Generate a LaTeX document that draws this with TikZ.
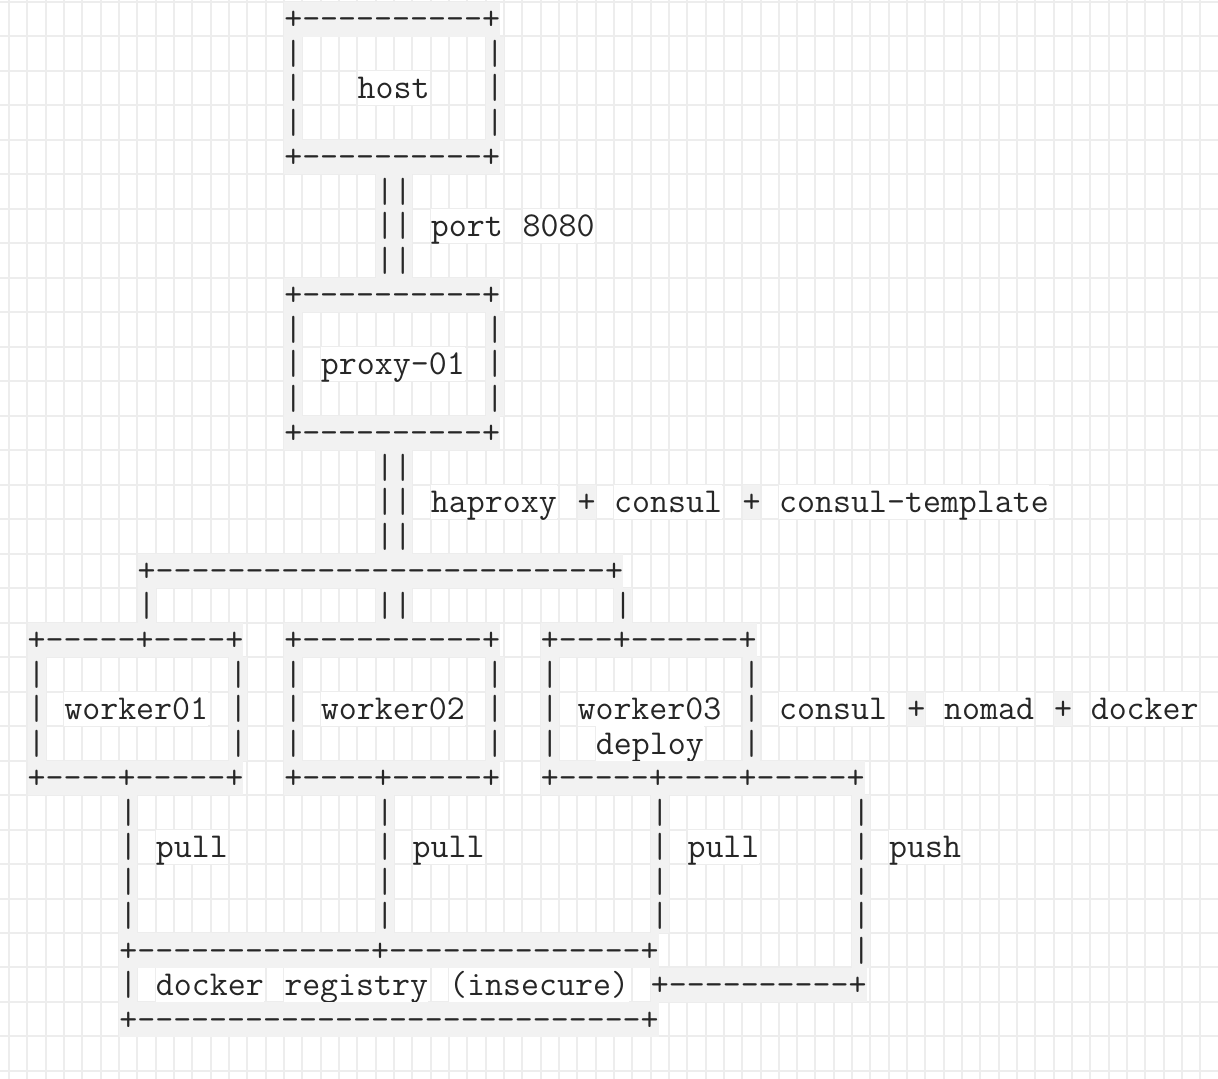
\documentclass[tikz,border=0pt]{standalone}
\usepackage{fontspec}
\tikzset{
  cell/.style={anchor=north west, inner sep=0pt, text height=16.77pt, text depth=3.93pt,
    font=\ttfamily\fontsize{20.952pt}{20.7pt}\selectfont, text=black!85},
  ascii/.style={cell, fill=black!5},
  word/.style={cell, fill=white},
  gridline/.style={draw=black!7, line width=1.2pt}
}
\begin{document}
\begin{tikzpicture}[x=11pt, y=-20.7pt]
        \useasboundingbox[fill=white] (-0.491,-0.049) rectangle (65.96,31.206);

        % Grid
        \foreach \c in {0,...,66} \draw[gridline] (\c,-0.1) -- (\c,31.3);
        \foreach \r in {0,...,31} \draw[gridline] (-0.6,\r) -- (66.1,\r);

        % Host
        \node[ascii] (hostTop) at (15,0) {+----------+};
        \foreach \r in {1,2,3} {
          \node[ascii] (hostL\r) at (15,\r) {|};
          \node[ascii] (hostR\r) at (26,\r) {|};
        }
        \node[word] (host) at (19,2) {host};
        \node[ascii] (hostBot) at (15,4) {+----------+};

        % Host to proxy
        \foreach \r in {5,6,7} \node[ascii] (port\r) at (20,\r) {||};
        \node[word] (portA) at (23,6) {port};
        \node[word] (portB) at (28,6) {8080};

        % Proxy
        \node[ascii] (proxyTop) at (15,8) {+----------+};
        \foreach \r in {9,10,11} {
          \node[ascii] (proxyL\r) at (15,\r) {|};
          \node[ascii] (proxyR\r) at (26,\r) {|};
        }
        \node[word] (proxy) at (17,10) {proxy-01};
        \node[ascii] (proxyBot) at (15,12) {+----------+};

        % Proxy to workers
        \foreach \r in {13,14,15} \node[ascii] (ha\r) at (20,\r) {||};
        \node[word] (haA) at (23,14) {haproxy};
        \node[ascii] (haP1) at (31,14) {+};
        \node[word] (haB) at (33,14) {consul};
        \node[ascii] (haP2) at (40,14) {+};
        \node[word] (haC) at (42,14) {consul-template};
        \node[ascii] (fan) at (7,16) {+-------------------------+};
        \node[ascii] (fanL) at (7,17) {|};
        \node[ascii] (fanM) at (20,17) {||};
        \node[ascii] (fanR) at (33,17) {|};

        % Workers
        \node[ascii] (w1Top) at (1,18) {+-----+----+};
        \node[ascii] (w2Top) at (15,18) {+----------+};
        \node[ascii] (w3Top) at (29,18) {+---+------+};
        \foreach \r in {19,20,21} {
          \node[ascii] (w1L\r) at (1,\r) {|};
          \node[ascii] (w1R\r) at (12,\r) {|};
          \node[ascii] (w2L\r) at (15,\r) {|};
          \node[ascii] (w2R\r) at (26,\r) {|};
          \node[ascii] (w3L\r) at (29,\r) {|};
          \node[ascii] (w3R\r) at (40,\r) {|};
        }
        \node[word] (w1) at (3,20) {worker01};
        \node[word] (w2) at (17,20) {worker02};
        \node[word] (w3) at (31,20) {worker03};
        \node[word] (deploy) at (32,21) {deploy};
        \node[word] (stackA) at (42,20) {consul};
        \node[ascii] (stackP1) at (49,20) {+};
        \node[word] (stackB) at (51,20) {nomad};
        \node[ascii] (stackP2) at (57,20) {+};
        \node[word] (stackC) at (59,20) {docker};
        \node[ascii] (w1Bot) at (1,22) {+----+-----+};
        \node[ascii] (w2Bot) at (15,22) {+----+-----+};
        \node[ascii] (w3Bot) at (29,22) {+-----+----+-----+};

        % Pull and push
        \foreach \r in {23,...,26} {
          \node[ascii] (pullA\r) at (6,\r) {|};
          \node[ascii] (pullB\r) at (20,\r) {|};
          \node[ascii] (pullC\r) at (35,\r) {|};
          \node[ascii] (push\r) at (46,\r) {|};
        }
        \node[word] (pullA) at (8,24) {pull};
        \node[word] (pullB) at (22,24) {pull};
        \node[word] (pullC) at (37,24) {pull};
        \node[word] (push) at (48,24) {push};
        \node[ascii] (push27) at (46,27) {|};

        % Registry
        \node[ascii] (regTop) at (6,27) {+-------------+--------------+};
        \node[ascii] (regL) at (6,28) {|};
        \node[word] (regA) at (8,28) {docker};
        \node[word] (regB) at (15,28) {registry};
        \node[word] (regC) at (24,28) {(insecure)};
        \node[ascii] (pushBot) at (35,28) {+----------+};
        \node[ascii] (regBot) at (6,29) {+----------------------------+};

    \end{tikzpicture}
\end{document}
